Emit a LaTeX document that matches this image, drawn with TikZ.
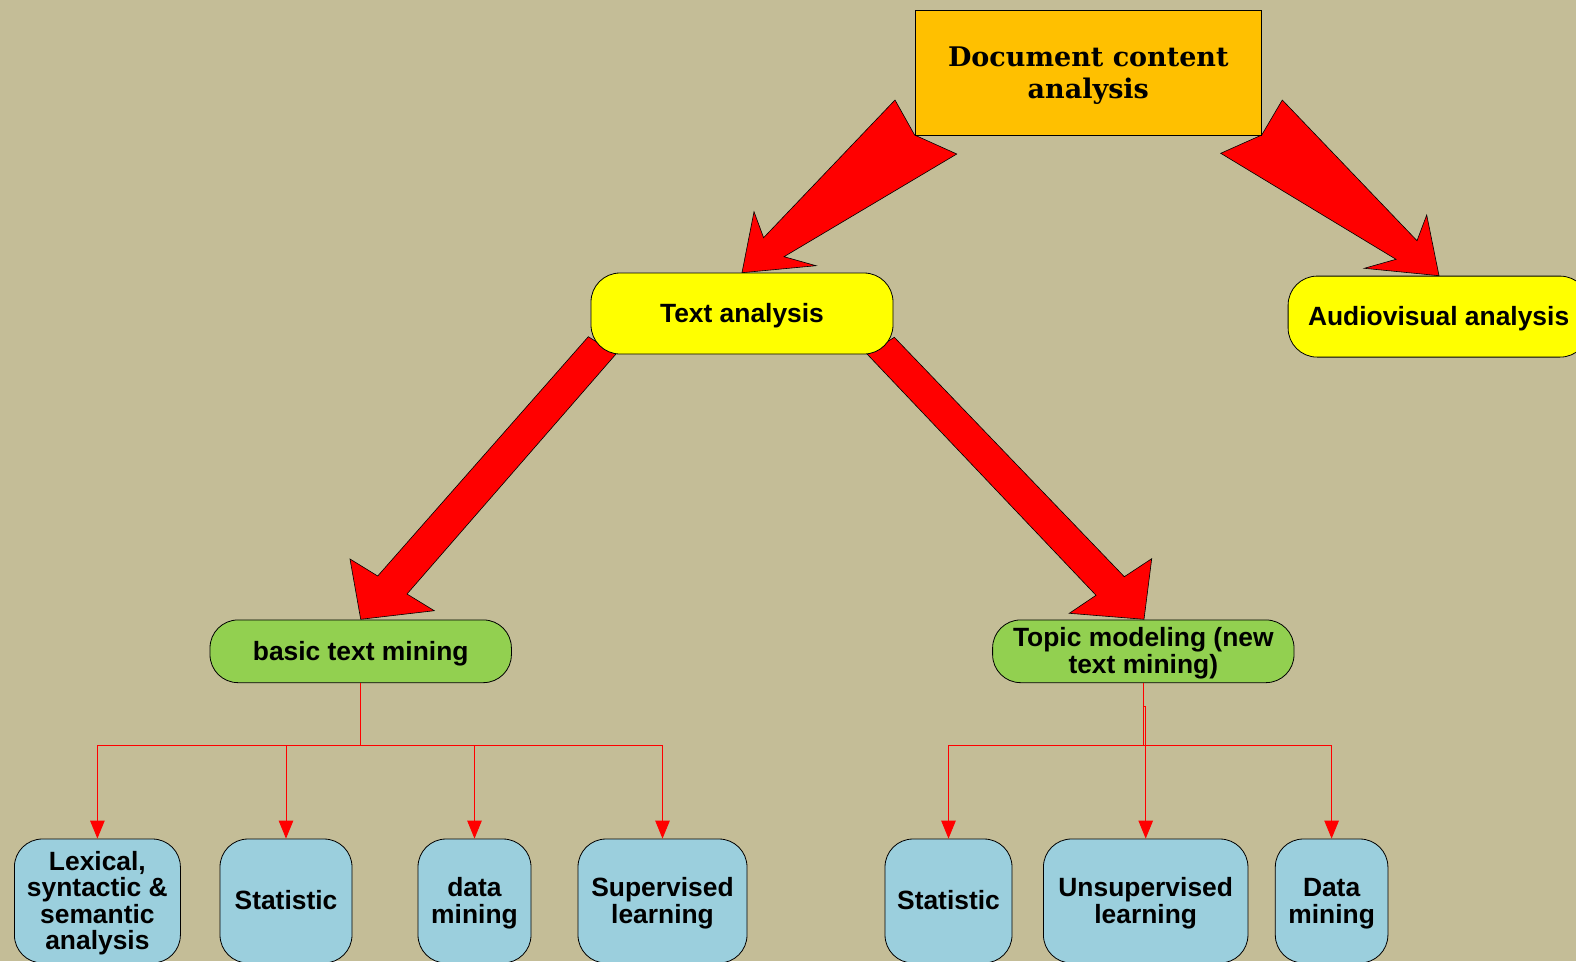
\documentclass[tikz,border=0pt]{standalone}
\usepackage{fontspec}
\setmainfont{Liberation Sans}
\newfontfamily\serifb{DejaVu Serif}
\usetikzlibrary{arrows.meta}
\definecolor{bg}{HTML}{C4BD97}
\definecolor{docfill}{HTML}{FFC000}
\definecolor{lvlone}{HTML}{FFFF00}
\definecolor{lvltwo}{HTML}{92D050}
\definecolor{leaf}{HTML}{9BCFDD}
\begin{document}
\begin{tikzpicture}[x=1pt,y=-1pt,
  base/.style={draw=black, line width=0.8pt, align=center, inner sep=0pt,
    font={\bfseries\fontsize{26.4}{26.5}\selectfont}},
  % text box heights, so that the lines sit slightly below the centre
  oneline/.style={text height=23.3pt},
  twolines/.style={text height=49.8pt},
  fourlines/.style={text height=102.8pt},
  docbox/.style={base, fill=docfill, text height=57.7pt,
    font={\serifb\bfseries\fontsize{27}{32}\selectfont}},
  pill/.style={base, rounded corners=29pt},
  leafbox/.style={base, fill=leaf, rounded corners=28pt, minimum height=124pt},
  bigarrow/.style={fill=red, draw=black, line width=0.6pt, line join=miter},
  link/.style={draw=red, line width=1pt},
  linkarrow/.style={link, -{Triangle[width=14.5pt,length=18pt]}},
]
\useasboundingbox (0,0) rectangle (1576,961);
\clip (0,0) rectangle (1576,961);
\fill[bg] (0,0) rectangle (1576,961);

% wide red block arrows (drawn first, boxes sit on top of their tails)
\draw[bigarrow] (895,100) -- (914.6,135) -- (956.8,154) -- (784,256.7) -- (816,265.7)
  -- (742,272.7) -- (754,211.7) -- (763.6,237.7) -- cycle;
\draw[bigarrow] (1282.3,100) -- (1417,240.7) -- (1426.7,215) -- (1439,275.7)
  -- (1364.3,268.3) -- (1396,259.3) -- (1220.7,153.3) -- (1261.7,135) -- cycle;
\draw[bigarrow] (588.3,336.7) -- (616,354) -- (407,594) -- (434.3,610.7)
  -- (360.7,619.3) -- (350,559) -- (377.7,576) -- cycle;
\draw[bigarrow] (867.3,354.3) -- (1096,595.3) -- (1069.3,613.3) -- (1144,619.3)
  -- (1151.7,558.7) -- (1124.3,576.7) -- (894.3,337.3) -- cycle;

% top levels
\node[docbox, minimum width=346.7pt, minimum height=125pt] (doc) at (1088.3,72.8)
  {Document content\\analysis};
\node[pill, oneline, fill=lvlone, minimum width=302pt, minimum height=81pt] (text) at (742,313.5)
  {Text analysis};
\node[pill, oneline, fill=lvlone, minimum width=301pt, minimum height=81pt] (av) at (1438.6,316.6)
  {Audiovisual analysis};
\node[pill, oneline, fill=lvltwo, rounded corners=28pt, minimum width=301.4pt, minimum height=62.7pt]
  (basic) at (360.7,651.3) {basic text mining};
\node[pill, twolines, fill=lvltwo, rounded corners=28pt, minimum width=301.4pt, minimum height=62.7pt]
  (topic) at (1143.3,651.3) {Topic modeling (new\\text mining)};

% leaves
\node[leafbox, fourlines, minimum width=166pt] (lex) at (97.4,901) {Lexical,\\syntactic \&\\semantic\\analysis};
\node[leafbox, text height=18pt, minimum width=132pt] (stat) at (286,901) {Statistic};
\node[leafbox, twolines, minimum width=113pt] (dmin) at (474.5,901) {data\\mining};
\node[leafbox, twolines, minimum width=169pt] (sup) at (662.5,901) {Supervised\\learning};
\node[leafbox, text height=18pt, minimum width=127pt] (stat2) at (948.5,901) {Statistic};
\node[leafbox, twolines, minimum width=204.5pt] (unsup) at (1145.7,901) {Unsupervised\\learning};
\node[leafbox, twolines, minimum width=112.6pt] (dmin2) at (1331.6,901) {Data\\mining};

% bus connectors
\coordinate (busy) at (0,745.3);
\coordinate (jogy) at (0,706);
\draw[link] (basic.south) -- (basic.south |- busy);
\foreach \t in {lex,stat,dmin,sup}
  \draw[linkarrow] (basic.south |- busy) -| (\t.north);
\draw[link] (topic.south) -- (topic.south |- busy);
\foreach \t in {stat2,dmin2}
  \draw[linkarrow] (topic.south |- busy) -| (\t.north);
\draw[linkarrow] (topic.south) -- (topic.south |- jogy) -| (unsup.north);
\end{tikzpicture}
\end{document}
